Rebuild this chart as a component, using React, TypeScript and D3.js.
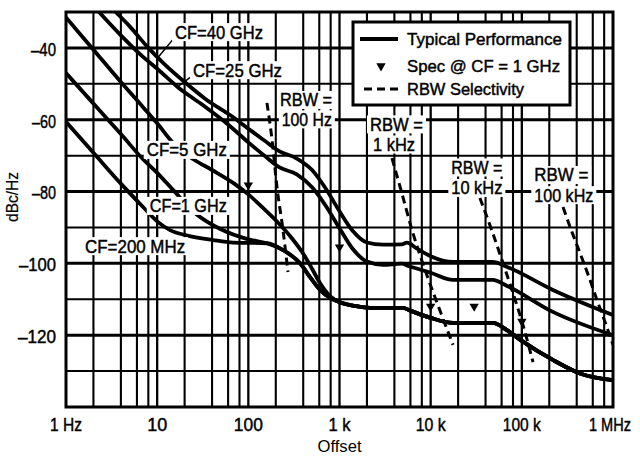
import { useEffect, useRef } from "react";
import * as d3 from "d3";

type Pt = [number, number]; // [offset Hz, dBc/Hz]

// typical performance curves
const cf40GHz: Pt[] = [
  [3.5, -30], [5, -34], [8, -40], [12, -44.5], [20, -49.5], [35, -54.5], [63, -58.7],
  [100, -62.5], [150, -65.8], [220, -68.8], [340, -70.8], [500, -74], [700, -79],
  [1000, -85.5], [1400, -91], [2000, -94.2], [3000, -94.8], [4800, -94.7], [5500, -94.2],
  [7000, -95.8], [10000, -98], [17600, -99.6], [48000, -99.6], [69000, -101],
  [219000, -107.4], [1e6, -114.4],
];
const cf25GHz: Pt[] = [
  [2.3, -30], [4, -36.5], [7, -42.5], [10, -45.8], [17, -51], [30, -55.5], [63, -61.8],
  [100, -66.3], [150, -70], [220, -73.3], [340, -75.2], [500, -78.8], [700, -83.8],
  [1000, -90.2], [1400, -96], [2000, -99.5], [3000, -100.4], [4800, -100.1], [5800, -100.8],
  [10000, -102.6], [17600, -104.6], [48000, -104.6], [69000, -106.3], [219000, -113.5],
  [1e6, -120],
];
const cf5GHz: Pt[] = [
  [1, -31.5], [2, -40.5], [4, -49.5], [7, -56.5], [10, -61], [15, -66.5], [25, -71],
  [40, -74], [70, -77.8], [100, -80.8], [144, -84.5], [200, -88], [300, -93], [400, -97.3],
  [500, -101.5], [611, -105.5], [800, -109.3], [1000, -110.8], [1500, -111.9], [2160, -112.4],
  [4960, -112.4], [5900, -113.1], [9800, -115.1], [17600, -116.6], [48000, -116.6],
  [68700, -118.6], [100000, -121.6], [219000, -126.9], [450000, -130.8], [1e6, -132.5],
];
const cf1GHz: Pt[] = [
  [1, -47], [2, -55.5], [4, -64], [7, -71], [10, -74.8], [15, -79.6], [27, -86.3], [50, -90.5],
  [100, -93.3], [160, -94.4], [240, -96.3], [370, -100], [480, -104], [611, -107.4],
  [800, -109.7], [1000, -110.8], [1500, -111.9], [2160, -112.4], [4960, -112.4], [5900, -113.1],
  [9800, -115.1], [17600, -116.6], [48000, -116.6], [68700, -118.6], [100000, -121.6],
  [219000, -126.9], [450000, -130.8], [1e6, -132.5],
];
const cf200MHz: Pt[] = [
  [1, -60.6], [2, -69.2], [4, -77.8], [7, -84.3], [10, -88.3], [14, -90.8], [21, -92.2],
  [41, -93.5], [68, -94.2], [160, -94.4], [240, -96.3], [370, -100], [480, -104], [611, -107.4],
  [800, -109.7], [1000, -110.8], [1500, -111.9], [2160, -112.4], [4960, -112.4], [5900, -113.1],
  [9800, -115.1], [17600, -116.6], [48000, -116.6], [68700, -118.6], [100000, -121.6],
  [219000, -126.9], [450000, -130.8], [1e6, -132.5],
];

// spec @ CF = 1 GHz
const specOffsets = [100, 1000, 10000, 30000, 100000];
const specLevels = [-78.2, -95.5, -112, -112, -116.2];

// RBW selectivity skirts
const rbw100Hz: Pt[] = [[160, -55.3], [182, -65.6], [206, -78.7], [240, -90.7], [272, -102.4]];
const rbw1kHz: Pt[] = [[3760, -70.7], [4730, -79.6], [6240, -90.7], [8670, -101.8], [12000, -111.6], [17600, -122.7]];
const rbw10kHz: Pt[] = [[34700, -81.8], [45900, -90.2], [60600, -99.1], [80000, -108.3], [103000, -117.2], [132600, -127.5]];
const rbw100kHz: Pt[] = [[283000, -84.3], [355000, -91.3], [434000, -97.1], [545000, -103.8], [667000, -110.2], [817000, -116.3], [1e6, -122.7]];

const xTicks = [1, 10, 100, 1e3, 1e4, 1e5, 1e6];
const xTickLabels = ["1 Hz", "10", "100", "1 k", "10 k", "100 k", "1 MHz"];
const yTicks = [-40, -60, -80, -100, -120];
const yTickLabels = ["\u201340", "\u201360", "\u201380", "\u2013100", "\u2013120"];
const gridSteps = [2, 4, 6, 8];

const legendItems = ["Typical Performance", "Spec @ CF = 1 GHz", "RBW Selectivity"];

// text widths (px)
const xTickW = [32, 20, 29, 22, 30, 38, 42];
const yTickW = [25, 24, 24, 37, 38];
const legendW = [155, 153, 117];

const FONT = "'Liberation Sans', Arial, Helvetica, sans-serif";

function levelAt(c: Pt[], f: number) {
  const lf = Math.log10(f);
  for (let i = 1; i < c.length; i++) {
    const a = Math.log10(c[i - 1][0]), b = Math.log10(c[i][0]);
    if (lf <= b) return c[i - 1][1] + (c[i][1] - c[i - 1][1]) * (lf - a) / (b - a);
  }
  return c[c.length - 1][1];
}

export default function App() {
  const ref = useRef<SVGSVGElement>(null);

  useEffect(() => {
    if (!ref.current) return;
    const W = 640, H = 457;
    const L = 66, R = 613, T = 12, B = 407;
    const svg = d3.select(ref.current).attr("width", W).attr("height", H);
    svg.selectAll("*").remove();

    const x = d3.scaleLog().domain([1, 1e6]).range([L, R]);
    const y = d3.scaleLinear().domain([-140, -30]).range([B, T]);

    svg.append("rect").attr("width", W).attr("height", H).attr("fill", "#fff");
    svg.append("defs").append("clipPath").attr("id", "plot-clip")
      .append("rect").attr("x", L).attr("y", T).attr("width", R - L).attr("height", B - T);

    const text = (parent: any, str: string, cx: number, cy: number, w: number, size: number, anchor = "middle") => {
      const left = anchor === "middle" ? cx - w / 2 : anchor === "end" ? cx - w : cx;
      return parent.append("text")
        .attr("x", left).attr("y", cy + size * 0.358)
        .attr("font-family", FONT).attr("font-size", size)
        .attr("textLength", w).attr("lengthAdjust", "spacingAndGlyphs")
        .attr("fill", "#000").attr("stroke", "#000").attr("stroke-width", 0.45)
        .text(str);
    };

    // Grid
    const grid = svg.append("g").attr("stroke", "#000");
    for (let e = 0; e < 6; e++) {
      const d = 10 ** e;
      gridSteps.forEach(m => {
        grid.append("line").attr("x1", x(d * m)).attr("x2", x(d * m))
          .attr("y1", T).attr("y2", B).attr("stroke-width", 2.1);
      });
      if (e > 0) grid.append("line").attr("x1", x(d)).attr("x2", x(d))
        .attr("y1", T).attr("y2", B).attr("stroke-width", 2.3);
    }
    d3.range(-130, -30, 10).forEach(v => {
      grid.append("line").attr("x1", L).attr("x2", R).attr("y1", y(v)).attr("y2", y(v))
        .attr("stroke-width", v % 20 === 0 ? 3 : 2);
    });

    const plot = svg.append("g").attr("clip-path", "url(#plot-clip)");
    const line = d3.line<Pt>().x(d => x(d[0])).y(d => y(d[1])).curve(d3.curveMonotoneX);

    // RBW selectivity
    [rbw100Hz, rbw1kHz, rbw10kHz, rbw100kHz].forEach(c => {
      plot.append("path").attr("d", line(c)).attr("fill", "none").attr("stroke", "#000")
        .attr("stroke-width", 3).attr("stroke-dasharray", "8 5");
    });

    // Typical curves
    [cf40GHz, cf25GHz, cf5GHz, cf1GHz, cf200MHz].forEach(c => {
      plot.append("path").attr("d", line(c)).attr("fill", "none").attr("stroke", "#000")
        .attr("stroke-width", 3.8).attr("stroke-linejoin", "round");
    });

    // Spec markers
    const tri = d3.symbol().type(d3.symbolTriangle).size(38);
    specOffsets.forEach((f, i) => {
      plot.append("path").attr("d", tri()).attr("fill", "#000")
        .attr("transform", `translate(${x(f)},${y(specLevels[i])}) rotate(180)`);
    });

    // Curve and RBW labels (white boxes over the grid)
    const notes: { t: string; f: number; db: number; w: number }[] = [
      { t: "CF=40 GHz", f: 15.7, db: -35.6, w: 88 },
      { t: "CF=25 GHz", f: 24.7, db: -46.2, w: 89 },
      { t: "CF=5 GHz", f: 7.7, db: -68.4, w: 80 },
      { t: "CF=1 GHz", f: 8.3, db: -84.0, w: 77 },
      { t: "CF=200 MHz", f: 1.62, db: -95.2, w: 100 },
      { t: "RBW =", f: 223, db: -54.5, w: 52 },
      { t: "100 Hz", f: 233, db: -59.9, w: 50 },
      { t: "RBW =", f: 2160, db: -61.3, w: 53 },
      { t: "1 kHz", f: 2330, db: -66.9, w: 42 },
      { t: "RBW =", f: 16860, db: -73.3, w: 51 },
      { t: "10 kHz", f: 16860, db: -79.0, w: 51 },
      { t: "RBW =", f: 137000, db: -75.4, w: 54 },
      { t: "100 kHz", f: 137000, db: -81.0, w: 59 },
    ];
    const ann = svg.append("g");
    // leaders for the two top curves
    ann.append("line").attr("x1", x(15.7) - 1).attr("y1", y(-35.6) + 6)
      .attr("x2", x(10.2)).attr("y2", y(levelAt(cf40GHz, 10.2)))
      .attr("stroke", "#000").attr("stroke-width", 1.5);
    ann.append("line").attr("x1", x(24.7) - 1).attr("y1", y(-46.2) + 6)
      .attr("x2", x(16.7)).attr("y2", y(levelAt(cf25GHz, 16.7)))
      .attr("stroke", "#000").attr("stroke-width", 1.5);
    notes.forEach(n => {
      const lx = x(n.f), cy = y(n.db);
      ann.append("rect").attr("x", lx - 3).attr("y", cy - 9).attr("width", n.w + 6)
        .attr("height", 18).attr("fill", "#fff");
      text(ann, n.t, lx, cy, n.w, 18, "start");
    });

    // Legend
    const lg = svg.append("g");
    lg.append("rect").attr("x", 353).attr("y", 22).attr("width", 217).attr("height", 83)
      .attr("fill", "#fff").attr("stroke", "#000").attr("stroke-width", 3);
    const rows = [39, 66, 89];
    lg.append("line").attr("x1", 360).attr("x2", 398).attr("y1", rows[0]).attr("y2", rows[0])
      .attr("stroke", "#000").attr("stroke-width", 3.8);
    lg.append("path").attr("d", tri()).attr("fill", "#000")
      .attr("transform", `translate(381,${rows[1]}) rotate(180)`);
    lg.append("line").attr("x1", 364).attr("x2", 398).attr("y1", rows[2]).attr("y2", rows[2])
      .attr("stroke", "#000").attr("stroke-width", 3).attr("stroke-dasharray", "8 5");
    legendItems.forEach((s, i) => text(lg, s, 407, rows[i], legendW[i], 17, "start"));

    // Border
    svg.append("rect").attr("x", L).attr("y", T).attr("width", R - L).attr("height", B - T)
      .attr("fill", "none").attr("stroke", "#000").attr("stroke-width", 3);

    // Axes labels
    xTicks.forEach((v, i) => text(svg, xTickLabels[i], i === xTicks.length - 1 ? x(v) - 3 : x(v), 425, xTickW[i], 18));
    yTicks.forEach((v, i) => text(svg, yTickLabels[i], 56, y(v) + 1.5, yTickW[i], 18, "end"));
    text(svg, "Offset", (L + R) / 2, 446, 44, 16).attr("stroke-width", 0);
    const yl = svg.append("g").attr("transform", "translate(12,197) rotate(-90)");
    text(yl, "dBc/Hz", 0, 0, 50, 16).attr("stroke-width", 0.2);
  }, []);

  return (
    <div style={{ position: "absolute", left: 0, top: 0 }}>
      <svg ref={ref} />
    </div>
  );
}
